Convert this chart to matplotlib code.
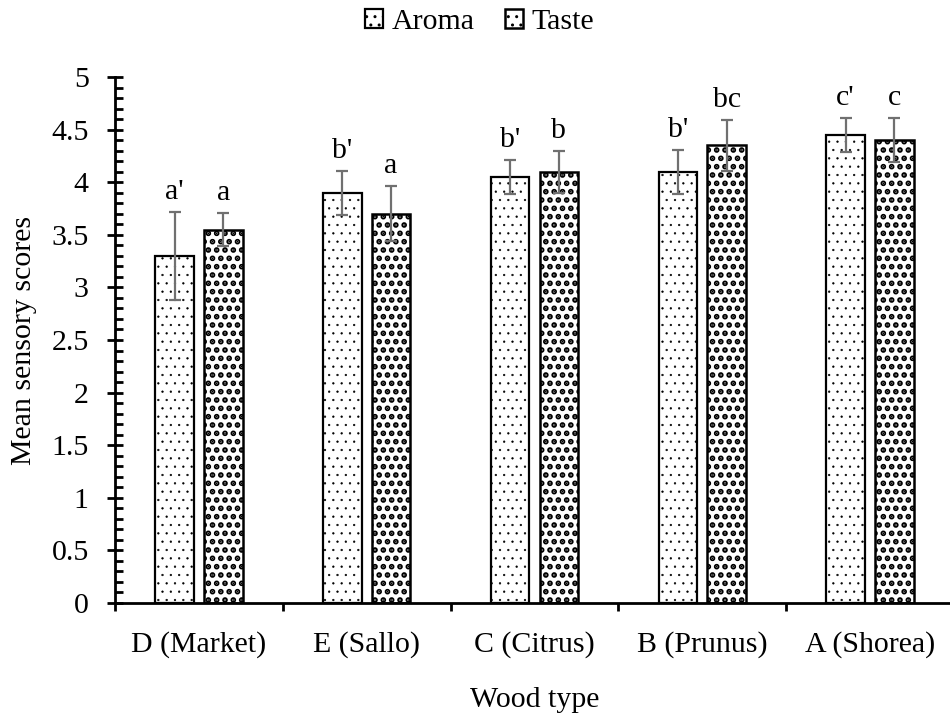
import numpy as np
import matplotlib
matplotlib.use("Agg")
import matplotlib.pyplot as plt
from matplotlib.ticker import MultipleLocator, FixedLocator, FixedFormatter, NullFormatter, FuncFormatter

plt.rcParams["font.family"] = ["Liberation Serif", "DejaVu Serif"]
plt.rcParams["font.size"] = 21.5

# Data
wood_types = ["D (Market)", "E (Sallo)", "C (Citrus)", "B (Prunus)", "A (Shorea)"]
aroma = [3.30, 3.90, 4.05, 4.10, 4.45]
aroma_err = [0.42, 0.21, 0.16, 0.21, 0.16]
taste = [3.55, 3.70, 4.10, 4.35, 4.40]
taste_err = [0.16, 0.26, 0.20, 0.24, 0.21]
aroma_letters = ["a'", "b'", "b'", "b'", "c'"]
taste_letters = ["a", "a", "b", "bc", "c"]

fig = plt.figure(figsize=(9.5, 7.17), dpi=100)
ax = fig.add_axes([0.1211, 0.159, 0.883, 0.7336])

x = np.arange(len(wood_types))
w = 0.23
off = 0.145
err_kw = dict(ecolor="#707070", elinewidth=1.6, capsize=4.5, capthick=1.6)

b1 = ax.bar(x - off, aroma, w, yerr=aroma_err, color="white", edgecolor="black",
            linewidth=1.6, hatch="..", error_kw=err_kw, label="Aroma", zorder=2)
b2 = ax.bar(x + off, taste, w, yerr=taste_err, color="white", edgecolor="black",
            linewidth=1.8, hatch="..", error_kw=err_kw, label="Taste", zorder=2)
for p in b1:
    p.set_hatch_linewidth(0.4)
for p in b2:
    p.set_hatch_linewidth(2.8)

# significance letters above the error bars
for xi, v, e, s in zip(x - off, aroma, aroma_err, aroma_letters):
    ax.annotate(s, (xi, v + e), xytext=(0, 5), textcoords="offset points",
                ha="center", va="bottom")
for xi, v, e, s in zip(x + off, taste, taste_err, taste_letters):
    ax.annotate(s, (xi, v + e), xytext=(0, 5), textcoords="offset points",
                ha="center", va="bottom")

ax.set_ylim(0, 5)
ax.set_xlim(-0.5, len(wood_types) - 0.5)
ax.yaxis.set_major_locator(MultipleLocator(0.5))
ax.yaxis.set_minor_locator(MultipleLocator(0.1))
ax.yaxis.set_major_formatter(FuncFormatter(lambda v, p: f"{v:g}"))
ax.tick_params(axis="y", which="major", direction="inout", length=12, width=2, pad=13)
ax.tick_params(axis="y", which="minor", direction="in", length=6, width=2)

# category boundaries as ticks, labels at centers
ax.xaxis.set_major_locator(FixedLocator(np.arange(-0.5, len(wood_types), 1.0)))
ax.xaxis.set_major_formatter(NullFormatter())
ax.xaxis.set_minor_locator(FixedLocator(x))
ax.xaxis.set_minor_formatter(FixedFormatter(wood_types))
ax.tick_params(axis="x", which="major", direction="out", length=6, width=2)
ax.tick_params(axis="x", which="minor", length=0, pad=20)

for s in ["top", "right"]:
    ax.spines[s].set_visible(False)
ax.spines["left"].set_linewidth(2)
ax.spines["bottom"].set_linewidth(2)

ax.set_ylabel("Mean sensory scores", labelpad=10)
ax.set_xlabel("Wood type", labelpad=21)

fig.legend(handles=[b1, b2], labels=["Aroma", "Taste"], loc="upper center",
           bbox_to_anchor=(0.505, 1.025), ncol=2, frameon=False,
           handlelength=0.6, handleheight=0.6, handletextpad=0.3, columnspacing=1.0)

fig.savefig("out.png", dpi=100)
